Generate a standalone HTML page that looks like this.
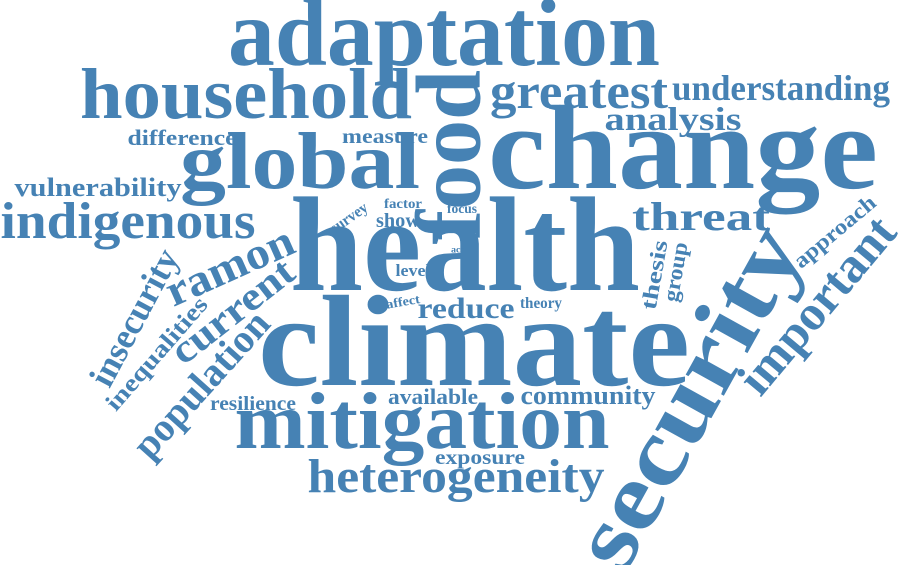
<!DOCTYPE html>
<html><head><meta charset="utf-8"><style>
html,body{margin:0;padding:0;background:#fff;}
svg{display:block;}
text{font-family:"Liberation Serif",serif;font-weight:bold;fill:#4682b4;}
</style></head><body>
<svg width="900" height="565" viewBox="0 0 900 565" id="cloud"></svg>
<script>
const words = ["adaptation","household","greatest","understanding","analysis","global","change","difference","measure","vulnerability","indigenous","health","threat","factor","focus","show","level","reduce","theory","climate","resilience","available","community","mitigation","exposure","heterogeneity","food","survey","acc","affect","ramon","current","insecurity","inequalities","population","thesis","group","security","approach","important"];
const sizes = [95,72,50,36,33,80,120,22,20,26,52,135,40,14,14,20,17,30,16,130,20,22,26,80,20,48,92,16,9,13,45,40,36,24,40,22,22,95,22,50];
// layout (not data): [x, y, textLength, rotation, centered?]
const layout = [
[444,65,432,0,0],[246,118,332,0,0],[579,108,178,0,0],[781,100,218,0,0],[673,130,137,0,0],
[300,188,240,0,0],[683,188,390,0,0],[182,145,109,0,0],[385,143,86,0,0],[98,196,167,0,0],
[128,238,255,0,0],[465,290,350,0,0],[701,230,138,0,0],[403,208,38,0,0],[462,213,30,0,0],
[398,227,44,0,0],[413,276,35,0,0],[466,318,97,0,0],[541,308,42,0,0],[474,385,432,0,0],
[253,410,86,0,0],[433,404,90,0,0],[588,404,135,0,0],[422,448,375,0,0],[480,464,90,0,0],
[456,492,297,0,0],
[452,155,170,-90,1],[349,218,42,-35,1],[458,250,14,0,1],[403,302,34,-10,1],
[230,267,136,-24,1],[233,312,145,-38,1],[135,318,150,-62,1],[157,354,142,-49,1],
[202,385,183,-48,1],[655,275,70,-80,1],[676,272,60,-80,1],[690,398,376,-61,1],
[835,232,100,-40,1],[818,306,215,-50,1]
];
const svg = document.getElementById('cloud');
words.forEach((w,i)=>{
  const [x,y,tl,r,c] = layout[i];
  const t = document.createElementNS('http://www.w3.org/2000/svg','text');
  
  
  t.setAttribute('text-anchor','middle');
  t.setAttribute('font-size', sizes[i]);
  t.setAttribute('textLength', tl);
  t.setAttribute('lengthAdjust','spacingAndGlyphs');
  t.setAttribute('transform','translate('+x+','+y+') rotate('+r+')');
  if (c) t.setAttribute('dy','0.3em');
  t.textContent = w;
  svg.appendChild(t);
});
</script>
</body></html>
